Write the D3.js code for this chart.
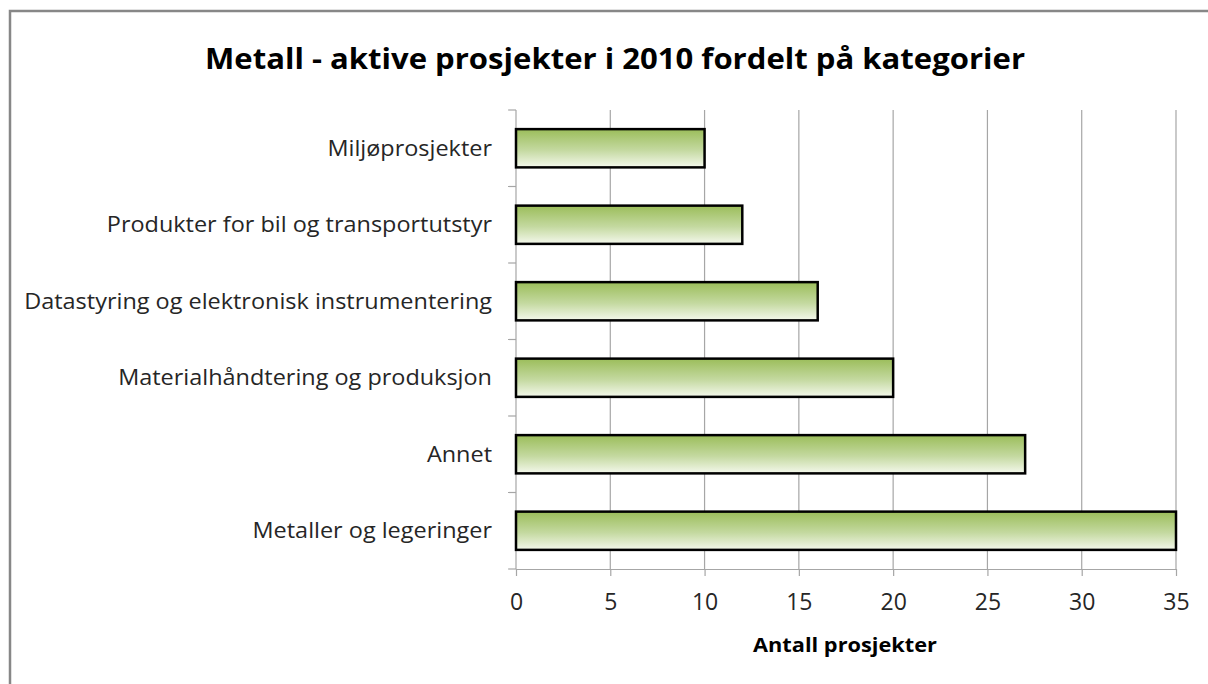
<!DOCTYPE html>
<html><head><meta charset="utf-8">
<script src="https://cdn.jsdelivr.net/npm/d3@7"></script>
<style>body{margin:0;background:#fff}svg{display:block}</style>
</head><body>
<script>
const categories = ["Miljøprosjekter","Produkter for bil og transportutstyr","Datastyring og elektronisk instrumentering","Materialhåndtering og produksjon","Annet","Metaller og legeringer"];
const values = [10,12,16,20,27,35];
const xTicks = [0,5,10,15,20,25,30,35];
const title = "Metall - aktive prosjekter i 2010 fordelt på kategorier";
const xTitle = "Antall prosjekter";

const W=1208,H=684;
const font = "'Open Sans', 'Noto Sans', sans-serif";
const svg = d3.select("body").append("svg").attr("width",W).attr("height",H);
const defs = svg.append("defs");
const g = defs.append("linearGradient").attr("id","grad").attr("x1",0).attr("y1",0).attr("x2",0).attr("y2",1);
g.append("stop").attr("offset","0%").attr("stop-color","#9bbd5a");
g.append("stop").attr("offset","55%").attr("stop-color","#c4d9a0");
g.append("stop").attr("offset","100%").attr("stop-color","#f4f8ec");

// border
svg.append("path").attr("d",`M10,${H} L10,11 L${W},11`).attr("fill","none").attr("stroke","#878787").attr("stroke-width",2.5);

const x = d3.scaleLinear().domain([0,35]).range([516,1176]);
const y = d3.scaleBand().domain(categories).range([110,569]).paddingInner(0.5).paddingOuter(0.25);

// gridlines
svg.append("g").selectAll("line").data(xTicks.slice(1)).join("line")
  .attr("x1",d=>x(d)).attr("x2",d=>x(d)).attr("y1",110).attr("y2",569)
  .attr("stroke","#a6a6a6").attr("stroke-width",1.2);

// x axis
const xa = svg.append("g").attr("transform","translate(0,569)")
  .call(d3.axisBottom(x).tickValues(xTicks).tickSize(7).tickPadding(18).tickSizeOuter(0));
xa.select(".domain").attr("stroke","#a6a6a6").attr("stroke-width",1.2);
xa.selectAll(".tick line").attr("stroke","#a6a6a6").attr("stroke-width",1.2);
xa.selectAll("text").attr("font-family",font).attr("font-size",23).attr("fill","#262626");

// y axis
const bounds = d3.range(categories.length+1).map(i=>110+i*(459/categories.length));
svg.append("line").attr("x1",516).attr("x2",516).attr("y1",110).attr("y2",569).attr("stroke","#a6a6a6").attr("stroke-width",1.2);
svg.append("g").selectAll("line").data(bounds).join("line")
  .attr("x1",508).attr("x2",516).attr("y1",d=>d).attr("y2",d=>d).attr("stroke","#a6a6a6").attr("stroke-width",1.2);
const labels = svg.append("g").selectAll("text").data(categories).join("text")
  .attr("x",492).attr("y",d=>y(d)+y.bandwidth()/2).attr("dy","0.36em")
  .attr("text-anchor","end").attr("font-family",font).attr("font-size",21.5).attr("fill","#262626").text(d=>d);
labels.each(function(){
  const L = this.getComputedTextLength();
  d3.select(this).attr("textLength", L*1.09).attr("lengthAdjust","spacingAndGlyphs");
});

// bars
svg.append("g").selectAll("rect").data(values).join("rect")
  .attr("x",x(0)).attr("y",(d,i)=>y(categories[i]))
  .attr("width",d=>x(d)-x(0)).attr("height",y.bandwidth())
  .attr("fill","url(#grad)").attr("stroke","#000").attr("stroke-width",2.5);

// titles
svg.append("text").attr("x",615).attr("y",69).attr("text-anchor","middle")
  .attr("font-family",font).attr("font-weight","bold").attr("font-size",29).attr("fill","#000")
  .attr("textLength",820).attr("lengthAdjust","spacingAndGlyphs").text(title);
svg.append("text").attr("x",845).attr("y",652).attr("text-anchor","middle")
  .attr("font-family",font).attr("font-weight","bold").attr("font-size",20).attr("fill","#000")
  .attr("textLength",184).attr("lengthAdjust","spacingAndGlyphs").text(xTitle);
</script>
</body></html>
